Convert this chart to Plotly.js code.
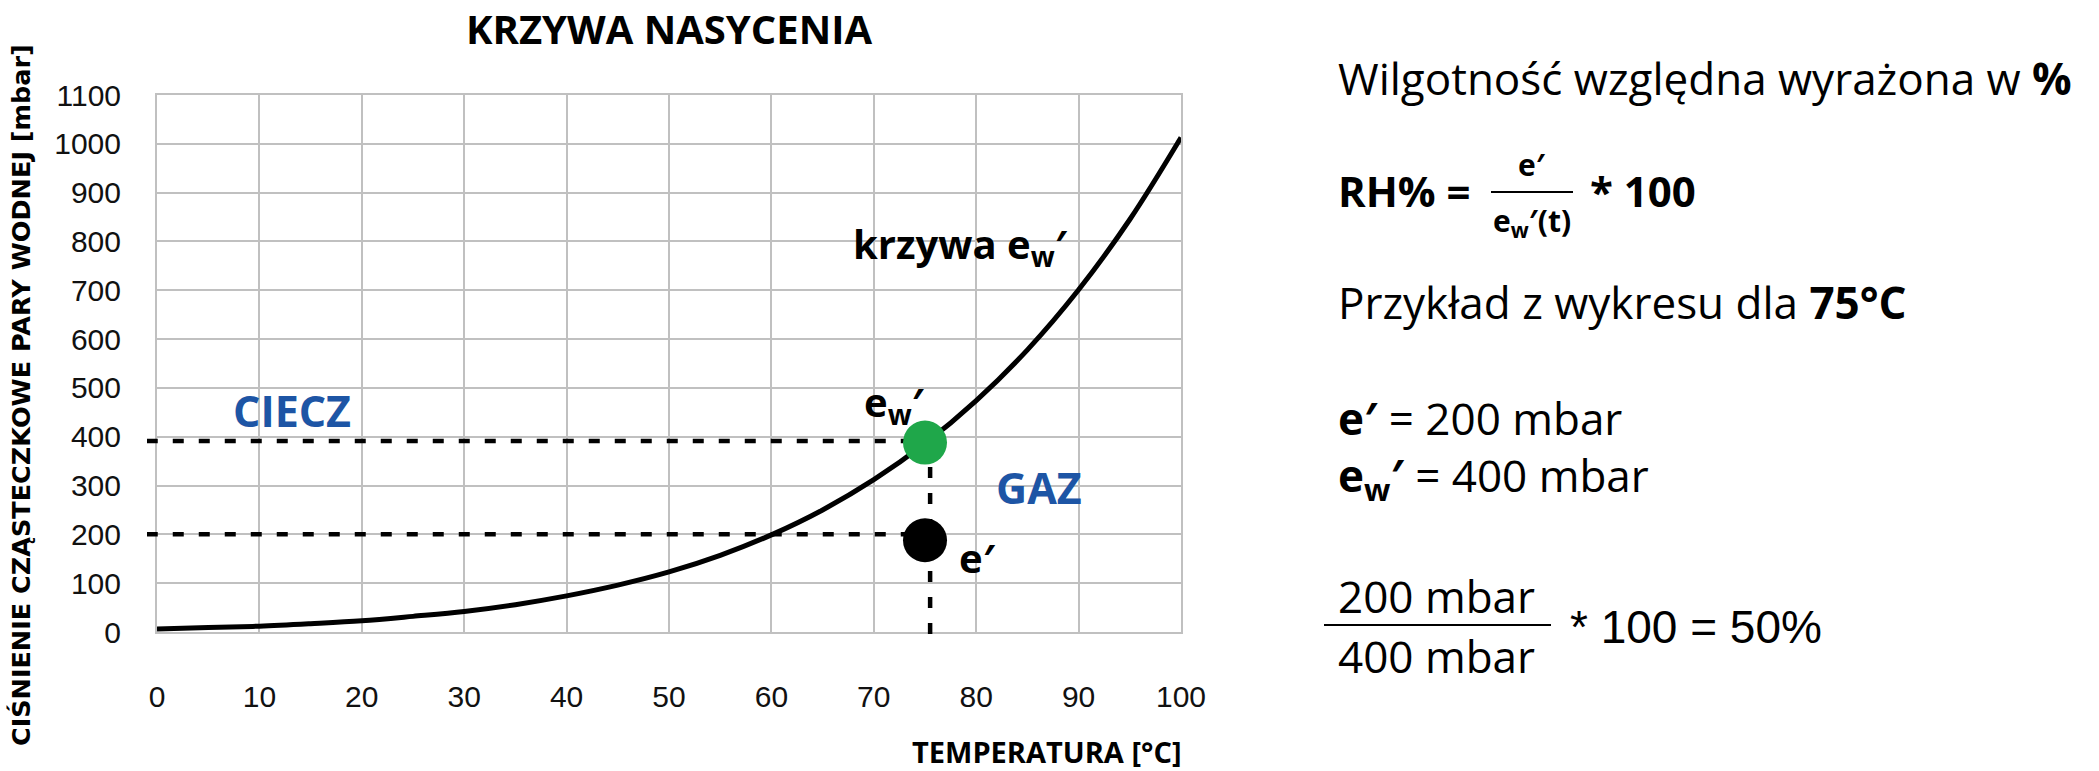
<!DOCTYPE html>
<html>
<head>
<meta charset="utf-8">
<script src="https://cdn.plot.ly/plotly-3.0.1.min.js"></script>
<style>
html,body{margin:0;padding:0;background:#fff;}
#chart{width:2099px;height:771px;}
</style>
</head>
<body>
<div id="chart"></div>
<script>
// ---------------- data ----------------
const tempC  = [0, 5, 10, 15, 20, 25, 30, 35, 40, 45, 50, 55, 60, 65, 70, 75, 80, 85, 90, 95, 100];
const ewMbar = [6, 9, 12, 17, 23, 32, 42, 56, 74, 96, 123, 157, 199, 250, 312, 386, 474, 578, 701, 845, 1013];

const pointT     = [75, 75];          // example temperature
const pointP     = [388, 188];        // e_w' (on curve) and e'
const pointNames = ["e_w'", "e'"];

const ewGuideX = [-1, 75];   const ewGuideY = [391, 391];
const eGuideX  = [-1, 74];   const eGuideY  = [200, 200];
const vGuideX  = [75.5, 75.5]; const vGuideY = [391, -32];

const xTickVals = [0, 10, 20, 30, 40, 50, 60, 70, 80, 90, 100];
const yTickVals = [0, 100, 200, 300, 400, 500, 600, 700, 800, 900, 1000, 1100];

const titleText  = "KRZYWA NASYCENIA";
const xTitleText = "TEMPERATURA [°C]";
const yTitleText = "CIŚNIENIE CZĄSTECZKOWE PARY WODNEJ [mbar]";

// ---------------- layout geometry ----------------
const W = 2099, H = 771;
const L = 147, R = 1181, T = 95, B = 647;   // outer (extended) box
const plotL = 157, plotB = 632;             // main plot area left / bottom
const xMax = 100, yMax = 1100;
const xDom0 = (plotL - L) / (R - L);
const yDom0 = (B - plotB) / (B - T);
const x2Min = xMax - xMax * (R - L) / (R - plotL);
const y2Min = yMax - yMax * (B - T) / (plotB - T);

const px = x => (x - L) / (R - L);
const py = y => (B - y) / (B - T);

const OS = "Open Sans, Noto Sans, sans-serif";
const BLUE = "#1d55a5";
const GREEN = "#1fa74a";

function ann(text, x, y, o) {
  o = o || {};
  return {
    text: text, xref: "paper", yref: "paper", x: px(x), y: py(y),
    xanchor: o.xa || "left", yanchor: o.ya || "middle", showarrow: false,
    textangle: o.angle || 0, align: o.align || "left",
    font: {family: o.family || OS, size: o.size || 44, color: o.color || "#000"}
  };
}

const gridStyle = {
  showgrid: true, gridcolor: "#c0c0c0", gridwidth: 2,
  showline: true, linecolor: "#c0c0c0", linewidth: 2, mirror: true,
  zeroline: false, ticks: "outside", tickcolor: "rgba(0,0,0,0)",
  automargin: false, fixedrange: true
};

const tickFont = {family: "Liberation Sans, Arial, sans-serif", size: 30, color: "#111"};

const traces = [
  {x: tempC, y: ewMbar, xaxis: "x", yaxis: "y", mode: "lines", name: "krzywa e_w'",
   line: {color: "#000", width: 5, shape: "spline"}, hoverinfo: "skip"},
  {x: ewGuideX, y: ewGuideY, xaxis: "x2", yaxis: "y2", mode: "lines",
   line: {color: "#000", width: 4.5, dash: "11px,15px"}, hoverinfo: "skip"},
  {x: eGuideX, y: eGuideY, xaxis: "x2", yaxis: "y2", mode: "lines",
   line: {color: "#000", width: 4.5, dash: "11px,15px"}, hoverinfo: "skip"},
  {x: vGuideX, y: vGuideY, xaxis: "x2", yaxis: "y2", mode: "lines",
   line: {color: "#000", width: 4.5, dash: "11px,15px"}, hoverinfo: "skip"},
  {x: pointT, y: pointP, xaxis: "x2", yaxis: "y2", mode: "markers", text: pointNames,
   marker: {size: 44, color: [GREEN, "#000"], line: {width: 0}}, hoverinfo: "skip"}
];

const layout = {
  width: W, height: H,
  margin: {l: L, r: W - R, t: T, b: H - B, pad: 0},
  paper_bgcolor: "#fff", plot_bgcolor: "rgba(0,0,0,0)",
  showlegend: false,
  title: {text: "<b>" + titleText + "</b>", xref: "container", yref: "container",
          x: 669 / W, y: 1 - 30 / H, xanchor: "center", yanchor: "middle",
          font: {family: OS, size: 40, color: "#000"}},
  xaxis: Object.assign({}, gridStyle, {
    domain: [xDom0, 1], range: [0, xMax], tickvals: xTickVals, ticklen: 37,
    anchor: "y", tickfont: tickFont
  }),
  yaxis: Object.assign({}, gridStyle, {
    domain: [yDom0, 1], range: [0, yMax], tickvals: yTickVals, ticklen: 28,
    anchor: "x", tickfont: tickFont
  }),
  xaxis2: {domain: [0, 1], range: [x2Min, xMax], anchor: "y2", visible: false, fixedrange: true},
  yaxis2: {domain: [0, 1], range: [y2Min, yMax], anchor: "x2", visible: false, fixedrange: true},
  shapes: [
    {type: "line", xref: "paper", yref: "paper", x0: px(1491), x1: px(1573), y0: py(192), y1: py(192),
     line: {color: "#000", width: 2}},
    {type: "line", xref: "paper", yref: "paper", x0: px(1324), x1: px(1551), y0: py(625), y1: py(625),
     line: {color: "#000", width: 2}}
  ],
  annotations: [
    ann("<b>" + yTitleText + "</b>", 21, 395, {xa: "center", angle: -90, size: 25.5,
        family: "DejaVu Sans, Verdana, sans-serif"}),
    ann("<b>" + xTitleText + "</b>", 1183, 751, {xa: "right", size: 29}),
    ann("<b>CIECZ</b>", 292, 410, {xa: "center", size: 43, color: BLUE}),
    ann("<b>GAZ</b>", 1039, 487, {xa: "center", size: 43, color: BLUE}),
    ann("<b>krzywa e<sub>w</sub>′</b>", 851, 245, {size: 40}),
    ann("<b>e<sub>w</sub>′</b>", 862, 404, {size: 40}),
    ann("<b>e′</b>", 957, 557, {size: 40}),
    // right side explanation
    ann("Wilgotność względna wyrażona w <b>%</b>", 1336, 78, {size: 44}),
    ann("<b>RH% =</b>", 1336, 190, {size: 42}),
    ann("<b>e′</b>", 1532, 164, {xa: "center", size: 30}),
    ann("<b>e<sub>w</sub>′(t)</b>", 1532, 222, {xa: "center", size: 30}),
    ann("<b>* 100</b>", 1588, 190, {size: 42}),
    ann("Przykład z wykresu dla <b>75°C</b>", 1336, 302, {size: 44}),
    ann("<b>e′</b> = 200 mbar", 1336, 418, {size: 44}),
    ann("<b>e<sub>w</sub>′</b> = 400 mbar", 1336, 477, {size: 44}),
    ann("200 mbar", 1436, 596, {xa: "center", size: 44}),
    ann("400 mbar", 1436, 656, {xa: "center", size: 44}),
    ann("* 100 = 50%", 1568, 627, {size: 46, family: "Liberation Sans, Arial, sans-serif"})
  ]
};

Plotly.newPlot("chart", traces, layout, {staticPlot: true, displayModeBar: false});
</script>
</body>
</html>
